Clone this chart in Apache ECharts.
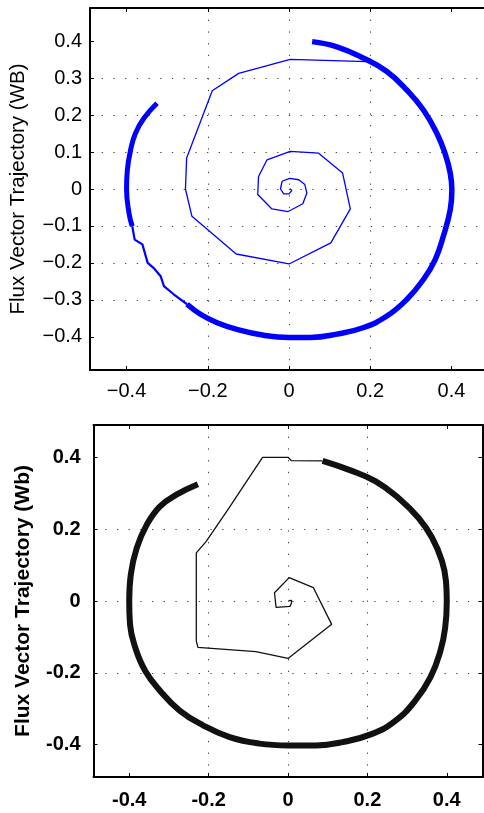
<!DOCTYPE html>
<html>
<head>
<meta charset="utf-8">
<script src="https://cdn.jsdelivr.net/npm/echarts@6/dist/echarts.min.js"></script>
<style>
html,body{margin:0;padding:0;background:#fff;overflow:hidden;}
#c{width:494px;height:813px;}
</style>
</head>
<body>
<div id="c"></div>
<script>
// ---- Tick labels ----
const topXTicks = [-0.4, -0.2, 0, 0.2, 0.4];
const topYTicks = [-0.4, -0.3, -0.2, -0.1, 0, 0.1, 0.2, 0.3, 0.4];
const botXTicks = [-0.4, -0.2, 0, 0.2, 0.4];
const botYTicks = [-0.4, -0.2, 0, 0.2, 0.4];
const yLabelTop = 'Flux Vector Trajectory (WB)';
const yLabelBot = 'Flux Vector Trajectory (Wb)';

// ---- Top chart (blue) ----
const topSpiral = [[0.002,0.001],[0.007,-0.004],[0,-0.013],[-0.013,-0.013],[-0.021,0],[-0.017,0.021],[0.002,0.029],[0.024,0.025],[0.039,0.012],[0.044,-0.011],[0.034,-0.04],[-0.002,-0.061],[-0.042,-0.054],[-0.077,-0.015],[-0.075,0.034],[-0.054,0.079],[0.003,0.102],[0.073,0.097],[0.132,0.043],[0.151,-0.054],[0.103,-0.146],[0,-0.203],[-0.13,-0.176],[-0.239,-0.074],[-0.255,0],[-0.252,0.084],[-0.189,0.266],[-0.124,0.313],[0.003,0.351],[0.192,0.345]];
const topArcA = [[0.057,0.399],[0.118,0.385],[0.184,0.354],[0.241,0.318],[0.29,0.268],[0.331,0.214],[0.364,0.151],[0.384,0.097],[0.397,0.043],[0.401,-0.002],[0.397,-0.056],[0.38,-0.128],[0.36,-0.191],[0.331,-0.245],[0.29,-0.299],[0.241,-0.344],[0.184,-0.375],[0.118,-0.393],[0.052,-0.402],[0,-0.402],[-0.062,-0.396],[-0.128,-0.38],[-0.177,-0.362],[-0.218,-0.339],[-0.251,-0.312]];
const topArcB = [[-0.251,-0.312],[-0.284,-0.285],[-0.308,-0.263],[-0.316,-0.236],[-0.333,-0.214],[-0.348,-0.2],[-0.361,-0.15],[-0.38,-0.137],[-0.386,-0.101]];
const topArcC = [[-0.386,-0.101],[-0.394,-0.065],[-0.4,0],[-0.398,0.052],[-0.39,0.106],[-0.378,0.151],[-0.357,0.192],[-0.325,0.232]];

// ---- Bottom chart (black) ----
const botSpiral = [[0.002,0.001],[0.006,0.004],[0.009,0.002],[0.009,-0.005],[0.005,-0.015],[0,-0.018],[-0.03,-0.018],[-0.034,0.023],[0.003,0.065],[0.064,0.037],[0.11,-0.065],[0,-0.16],[-0.081,-0.141],[-0.227,-0.129],[-0.231,-0.111],[-0.231,0.134],[-0.206,0.166],[-0.148,0.26],[-0.106,0.33],[-0.064,0.4],[0,0.4],[0.008,0.391],[0.087,0.39]];
const botArc = [[0.087,0.39],[0.154,0.365],[0.221,0.333],[0.279,0.286],[0.329,0.231],[0.363,0.176],[0.388,0.111],[0.398,0.055],[0.4,0],[0.396,-0.074],[0.384,-0.139],[0.359,-0.212],[0.321,-0.277],[0.271,-0.333],[0.212,-0.37],[0.137,-0.393],[0.07,-0.402],[0,-0.402],[-0.072,-0.397],[-0.147,-0.379],[-0.214,-0.346],[-0.273,-0.305],[-0.323,-0.249],[-0.36,-0.194],[-0.385,-0.129],[-0.398,-0.065],[-0.4,0],[-0.396,0.074],[-0.381,0.148],[-0.356,0.212],[-0.323,0.263],[-0.281,0.296],[-0.227,0.325]];

const chart = echarts.init(document.getElementById('c'), null, {renderer:'canvas'});

const gridDash = {color:'#444', width:1, type:[1.3,10.4]};
function fmtTop(v){ const s = String(Math.round(v*10)/10); return s.replace('-', '\u2212'); }
function fmtBot(v){ return String(Math.round(v*10)/10); }

function mkAxis(gi, pos, ticks, labels, fmt, font, margin, name, nameGap, hidden) {
  const a = {
    type:'value', gridIndex:gi, position:pos, min:-0.49, max:0.49, show:!hidden,
    axisLine:{show:true, onZero:false, lineStyle:{color:'#000', width:2}},
    axisTick:{show:true, inside:true, length:4, customValues:ticks, lineStyle:{color:'#000', width:1}},
    axisLabel:{show:labels, customValues:ticks, formatter:fmt, margin:margin,
      fontFamily:'"Liberation Sans", Arial, sans-serif', fontSize:font.size, fontWeight:font.weight, color:'#000'},
    splitLine:{show:labels, showMinLine:false, showMaxLine:false, lineStyle:gridDash}
  };
  if (name) {
    a.name = name; a.nameLocation = 'middle'; a.nameGap = nameGap;
    a.nameTextStyle = {fontFamily:'"Liberation Sans", Arial, sans-serif', fontSize:font.nsize, fontWeight:font.weight, color:'#000'};
  }
  return a;
}
const fTop = {size:20, weight:'normal', nsize:20.5};
const fBot = {size:20, weight:'bold', nsize:21};

const option = {
  animation:false,
  backgroundColor:'#fff',
  grid:[
    {left:90, top:8, width:398, height:362, outerBoundsMode:'none', containLabel:false},
    {left:93.5, top:425, width:389, height:352, outerBoundsMode:'none', containLabel:false}
  ],
  xAxis:[
    mkAxis(0,'bottom',topXTicks,true,fmtTop,fTop,11),
    mkAxis(0,'top',topXTicks,false,fmtTop,fTop,11),
    mkAxis(1,'bottom',botXTicks,true,fmtBot,fBot,13),
    mkAxis(1,'top',botXTicks,false,fmtBot,fBot,13)
  ],
  yAxis:[
    mkAxis(0,'left',topYTicks,true,fmtTop,fTop,8,yLabelTop,61),
    mkAxis(0,'right',topYTicks,false,fmtTop,fTop,8,null,0,true),
    mkAxis(1,'left',botYTicks,true,fmtBot,fBot,13,yLabelBot,60),
    mkAxis(1,'right',botYTicks,false,fmtBot,fBot,13)
  ],
  series:[
    {type:'line', xAxisIndex:0, yAxisIndex:0, data:topSpiral, showSymbol:false, lineStyle:{color:'#0000ff', width:1.3}},
    {type:'line', xAxisIndex:0, yAxisIndex:0, data:topArcA, smooth:0.45, showSymbol:false, lineStyle:{color:'#0000ff', width:5.5}},
    {type:'line', xAxisIndex:0, yAxisIndex:0, data:topArcB, showSymbol:false, lineStyle:{color:'#0000ff', width:2.2}},
    {type:'line', xAxisIndex:0, yAxisIndex:0, data:topArcC, smooth:0.45, showSymbol:false, lineStyle:{color:'#0000ff', width:5}},
    {type:'line', xAxisIndex:2, yAxisIndex:2, data:botSpiral, showSymbol:false, lineStyle:{color:'#111', width:1.3}},
    {type:'line', xAxisIndex:2, yAxisIndex:2, data:botArc, smooth:0.45, showSymbol:false, lineStyle:{color:'#111', width:6}}
  ]
};
chart.setOption(option);
</script>
</body>
</html>
